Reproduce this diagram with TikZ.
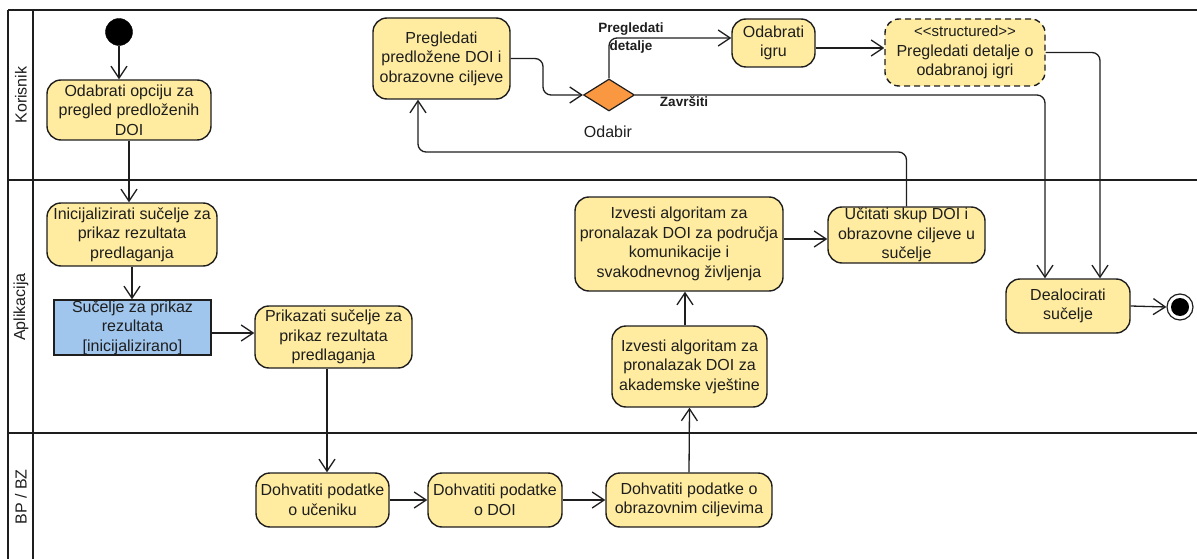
\documentclass[tikz,border=0pt]{standalone}
\usepackage{fontspec}
\setmainfont{Liberation Sans}
\usetikzlibrary{arrows.meta,shapes.geometric,calc}
\definecolor{actfill}{RGB}{255,236,160}
\definecolor{objfill}{RGB}{160,198,238}
\definecolor{decfill}{RGB}{250,152,66}
\definecolor{ink}{RGB}{30,30,30}
\begin{document}
\begin{tikzpicture}[x=1pt,y=-1pt,
  font=\fontsize{16}{19.5}\selectfont,
  act/.style={draw=ink, fill=actfill, rounded corners=14pt, line width=1.4pt, inner sep=0pt, align=center, text=ink},
  obj/.style={draw=ink, fill=objfill, line width=1.4pt, inner sep=0pt, align=center, text=ink},
  dec/.style={diamond, draw=ink, fill=decfill, line width=1.2pt, inner sep=0pt, minimum width=51pt, minimum height=32pt},
  lanerule/.style={draw=ink, line width=2.6pt},
  conn/.style={draw=ink, line width=1.3pt, -{Straight Barb[length=12pt,width=16pt,line width=1.3pt]}},
  guard/.style={font=\fontsize{13.5}{17.5}\selectfont\bfseries, text=ink, align=center, inner sep=0pt},
  lanelbl/.style={rotate=90, text=ink, inner sep=0pt}
]
\useasboundingbox (0,0) rectangle (1197,559);
% swimlanes
\draw[lanerule] (8,10) -- (1197,10);
\draw[lanerule] (8,10) -- (8,559);
\draw[lanerule] (33,10) -- (33,559);
\draw[lanerule] (8,180) -- (1197,180);
\draw[lanerule] (8,433) -- (1197,433);
\node[lanelbl] (lk) at (21,95) {Korisnik};
\node[lanelbl] (la) at (21,307) {Aplikacija};
\node[lanelbl] (lb) at (21,497) {BP / BZ};

% nodes
\node[circle, fill=black, draw=black, minimum size=27pt, inner sep=0pt] (init) at (119,32) {};
\node[act, minimum width=164pt, minimum height=60pt] (opciju) at (129,110) {Odabrati opciju za\\pregled predloženih\\DOI};
\node[act, minimum width=170pt, minimum height=63pt] (inic) at (132,234.5) {Inicijalizirati sučelje za\\prikaz rezultata\\predlaganja};
\node[obj, minimum width=157pt, minimum height=55pt] (sucelje) at (132.5,327.5) {Sučelje za prikaz\\rezultata\\{}[inicijalizirano]};
\node[act, minimum width=157pt, minimum height=62pt] (prikaz) at (333.5,337) {Prikazati sučelje za\\prikaz rezultata\\predlaganja};
\node[act, minimum width=137pt, minimum height=81pt] (pregled) at (441.5,58.5) {Pregledati\\predložene DOI i\\obrazovne ciljeve};
\node[dec] (dia) at (609,95) {};
\node[text=ink, inner sep=0pt] (odabir) at (608,132) {Odabir};
\node[act, minimum width=83pt, minimum height=48pt] (igru) at (773.5,43) {Odabrati\\igru};
\node[act, dash pattern=on 6pt off 4pt, minimum width=160pt, minimum height=67pt] (struct) at (965,52.5) {{\fontsize{15}{17}\selectfont {<}{<}structured{>}{>}}\\Pregledati detalje o\\odabranoj igri};
\node[act, minimum width=208pt, minimum height=94pt] (izv1) at (679,244) {Izvesti algoritam za\\pronalazak DOI za područja\\komunikacije i\\svakodnevnog življenja};
\node[act, minimum width=155pt, minimum height=81pt] (izv2) at (689.5,366.5) {Izvesti algoritam za\\pronalazak DOI za\\akademske vještine};
\node[act, minimum width=157pt, minimum height=56pt] (ucit) at (906.5,235) {Učitati skup DOI i\\obrazovne ciljeve u\\sučelje};
\node[act, minimum width=124pt, minimum height=54pt] (dealoc) at (1068,306) {Dealocirati\\sučelje};
\node[circle, draw=ink, line width=1.2pt, fill=white, minimum size=26pt, inner sep=0pt] (end) at (1180,307) {};
\node[circle, fill=black, minimum size=18pt, inner sep=0pt] (endin) at (end) {};
\node[act, minimum width=133pt, minimum height=54pt] (ucenik) at (322.5,500) {Dohvatiti podatke\\o učeniku};
\node[act, minimum width=134pt, minimum height=54pt] (doi) at (495,500) {Dohvatiti podatke\\o DOI};
\node[act, minimum width=166pt, minimum height=54pt] (cilj) at (689,500) {Dohvatiti podatke o\\obrazovnim ciljevima};

% connectors
\draw[conn] (init) -- (init |- opciju.north);
\draw[conn] (opciju.south) -- (opciju.south |- inic.north);
\draw[conn] (inic.south) -- (inic.south |- sucelje.north);
\draw[conn] ([yshift=-5.5pt]sucelje.east) -- ([yshift=-5.5pt]sucelje.east -| prikaz.west);
\draw[conn] ([xshift=-6.5pt]prikaz.south) -- ([xshift=-6.5pt]prikaz.south |- ucenik.north);
\draw[conn] (ucenik.east) -- (doi.west);
\draw[conn] (doi.east) -- (cilj.west);
\draw[conn] (cilj.north) -- (izv2.south);
\draw[conn] ([xshift=-4.5pt]izv2.north) -- ([xshift=-4.5pt]izv2.north |- izv1.south);
\draw[conn] ([yshift=5pt]izv1.east) -- ([yshift=5pt]izv1.east -| ucit.west);
\coordinate (fb) at (418,152);
\draw[conn, rounded corners=8pt] (ucit.north) |- (fb) -- (fb |- pregled.south);
\coordinate (c1) at (543,77);
\draw[conn, rounded corners=8pt] (pregled.east) -| (c1) |- (dia.west);
\draw[conn, rounded corners=8pt] (dia.north) |- ([yshift=5pt]igru.west);
\draw[conn] ([yshift=-5pt]igru.east) -- ([yshift=-5pt]igru.east -| struct.west);
\draw[conn, rounded corners=8pt] (struct.east) -| ([xshift=32pt]dealoc.north);
\draw[conn, rounded corners=8pt] (dia.east) -| ([xshift=-23pt]dealoc.north);
\draw[conn] (dealoc.east) -- (end.west);
% guards
\node[guard] (g1) at (631,38) {Pregledati\\detalje};
\node[guard] (g2) at (684,102) {Završiti};
\end{tikzpicture}
\end{document}
